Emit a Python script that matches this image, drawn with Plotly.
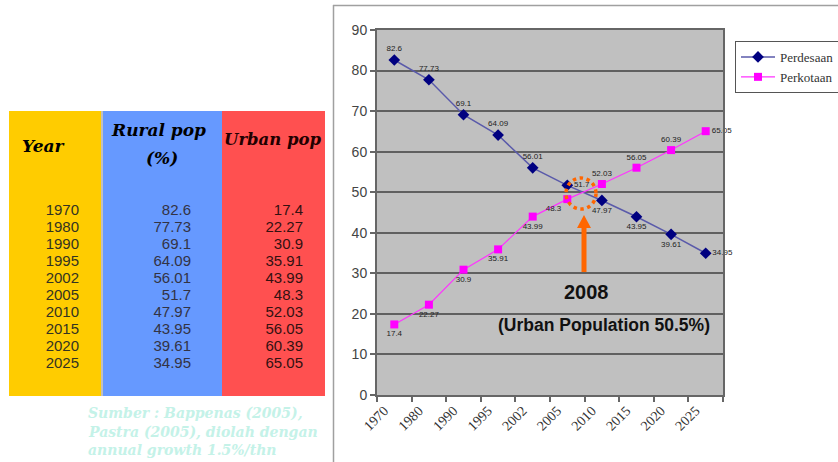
import plotly.graph_objects as go

# ---------------- data ----------------
years = ["1970", "1980", "1990", "1995", "2002", "2005", "2010", "2015", "2020", "2025"]
rural = [82.6, 77.73, 69.1, 64.09, 56.01, 51.7, 47.97, 43.95, 39.61, 34.95]
urban = [17.4, 22.27, 30.9, 35.91, 43.99, 48.3, 52.03, 56.05, 60.39, 65.05]
rural_label = "Perdesaan"
urban_label = "Perkotaan"
table_headers = ["<b><i>Year</i></b>", "<b><i>Rural pop</i></b>", "<b><i>Urban pop</i></b>"]
source_lines = ["Sumber : Bappenas (2005),", "Pastra (2005), diolah dengan", "annual growth 1.5%/thn"]
callout_year = "2008"
callout_text = "(Urban Population 50.5%)"

W, H = 838, 462
def px(x):
    return x / W
def py(y):
    return 1 - y / H

fig = go.Figure()

# ---------------- main chart ----------------
rural_pos = ["top center"] * 5 + ["middle right"] + ["bottom center"] * 3 + ["middle right"]
urban_pos = ["bottom center"] * 5 + ["bottom left"] + ["top center"] * 3 + ["middle right"]

fig.add_trace(go.Scatter(
    x=years, y=rural, name=rural_label, mode="lines+markers+text",
    line=dict(color="#5a5aaa", width=1.5),
    marker=dict(symbol="diamond", size=9, color="#000080"),
    text=[str(v) for v in rural], textposition=rural_pos,
    textfont=dict(family="Arial", size=8, color="#222222"),
    cliponaxis=False, xaxis="x", yaxis="y"))
fig.add_trace(go.Scatter(
    x=years, y=urban, name=urban_label, mode="lines+markers+text",
    line=dict(color="#ff33ff", width=1.2),
    marker=dict(symbol="square", size=8, color="#ff00ff"),
    text=[str(v) for v in urban], textposition=urban_pos,
    textfont=dict(family="Arial", size=8, color="#222222"),
    cliponaxis=False, xaxis="x", yaxis="y"))

# ---------------- table (left) ----------------
row_idx = list(range(len(years)))
col_right = [79, 191, 303]
cols = [years, [str(v) for v in rural], [str(v) for v in urban]]
col_colors = ["#333322", "#333344", "#331111"]
for cx, vals, tc in zip(col_right, cols, col_colors):
    fig.add_trace(go.Scatter(
        x=[cx] * len(vals), y=row_idx, mode="text", text=vals,
        textposition="middle left",
        textfont=dict(family="Arial", size=15, color=tc),
        showlegend=False, hoverinfo="skip", xaxis="x2", yaxis="y2", cliponaxis=False))

shapes = []
for x0, x1, c in [(9, 101, "#ffcc00"), (103, 222, "#6699ff"), (222, 325, "#ff5050")]:
    shapes.append(dict(type="rect", xref="paper", yref="paper",
                       x0=px(x0), x1=px(x1), y0=py(396), y1=py(111),
                       fillcolor=c, line=dict(width=0), layer="below"))
shapes.append(dict(type="line", xref="paper", yref="paper", x0=px(333), x1=px(838),
                   y0=py(5.5), y1=py(5.5), line=dict(color="#a0a0a0", width=1.5)))
shapes.append(dict(type="line", xref="paper", yref="paper", x0=px(333.5), x1=px(333.5),
                   y0=py(5), y1=py(462), line=dict(color="#a0a0a0", width=1.5)))
shapes.append(dict(type="circle", xref="paper", yref="paper",
                   x0=px(566), x1=px(596), y0=py(209), y1=py(178),
                   line=dict(color="#ff6600", width=3.5, dash="dot")))
shapes.append(dict(type="line", xref="paper", yref="paper", x0=px(584), x1=px(584),
                   y0=py(272), y1=py(226), line=dict(color="#ff6600", width=5)))
shapes.append(dict(type="path", xref="paper", yref="paper",
                   path=f"M {px(577)} {py(228)} L {px(591)} {py(228)} L {px(584)} {py(215)} Z",
                   fillcolor="#ff6600", line=dict(width=0)))

annotations = []
hdr_font = dict(family="DejaVu Serif", size=17, color="#000000")
annotations.append(dict(xref="paper", yref="paper", x=px(43), y=py(146), text=table_headers[0],
                        showarrow=False, font=hdr_font, xanchor="center", yanchor="middle"))
annotations.append(dict(xref="paper", yref="paper", x=px(158), y=py(130), text=table_headers[1],
                        showarrow=False, font=hdr_font, xanchor="center", yanchor="middle"))
annotations.append(dict(xref="paper", yref="paper", x=px(162), y=py(158), text="<b><i>(%)</i></b>",
                        showarrow=False, font=hdr_font, xanchor="center", yanchor="middle"))
annotations.append(dict(xref="paper", yref="paper", x=px(273), y=py(139), text=table_headers[2],
                        showarrow=False, font=dict(family="DejaVu Serif", size=16.5, color="#220000"),
                        xanchor="center", yanchor="middle"))
for i, line in enumerate(source_lines):
    annotations.append(dict(xref="paper", yref="paper", x=px(86), y=py(413 + 18.5 * i),
                            text=f"<b><i>{line}</i></b>", showarrow=False,
                            font=dict(family="DejaVu Serif", size=14, color="#c4f2e8"),
                            xanchor="left", yanchor="middle"))
annotations.append(dict(xref="paper", yref="paper", x=px(586), y=py(292), text=f"<b>{callout_year}</b>",
                        showarrow=False, font=dict(family="Arial", size=20, color="#111111"),
                        xanchor="center", yanchor="middle"))
annotations.append(dict(xref="paper", yref="paper", x=px(604), y=py(325), text=f"<b>{callout_text}</b>",
                        showarrow=False, font=dict(family="Arial", size=17.5, color="#111111"),
                        xanchor="center", yanchor="middle"))

fig.update_layout(
    width=W, height=H,
    margin=dict(l=0, r=0, t=0, b=0, pad=0, autoexpand=False),
    paper_bgcolor="white",
    plot_bgcolor="#c0c0c0",
    showlegend=True,
    legend=dict(x=px(735), y=py(41), xanchor="left", yanchor="top",
                bgcolor="white", bordercolor="#555555", borderwidth=1,
                font=dict(family="Liberation Serif", size=13, color="#333333"),
                itemwidth=34, tracegroupgap=0),
    xaxis=dict(domain=[px(377), px(723)], type="category", tickson="boundaries",
               ticks="outside", ticklen=5, tickcolor="#666666", tickwidth=1.5,
               showgrid=False, showline=True, linecolor="#666666", linewidth=2, mirror=True,
               tickangle=-45, tickfont=dict(family="Liberation Serif", size=14, color="#333333"),
               ticklabelshift=-10,
               range=[-0.5, 9.5], fixedrange=True, automargin=False),
    yaxis=dict(domain=[py(395), py(30)], range=[0, 90], dtick=10,
               ticks="outside", ticklen=5, tickcolor="#666666", tickwidth=1.5,
               showgrid=True, gridcolor="#606060", gridwidth=2, zeroline=False,
               showline=True, linecolor="#666666", linewidth=2, mirror=True,
               tickfont=dict(family="Arial", size=14, color="#444444"), fixedrange=True,
               automargin=False),
    xaxis2=dict(domain=[px(9), px(325)], range=[9, 325], visible=False, fixedrange=True),
    yaxis2=dict(domain=[py(396), py(111)], range=[(396 - 211) / 17, (111 - 211) / 17],
                visible=False, fixedrange=True, anchor="x2"),
    shapes=shapes,
    annotations=annotations,
)
fig.update_layout(xaxis2_anchor="y2")

fig.write_html("out.html", config={"displayModeBar": False},
               post_script="document.body.style.margin='0px';")
